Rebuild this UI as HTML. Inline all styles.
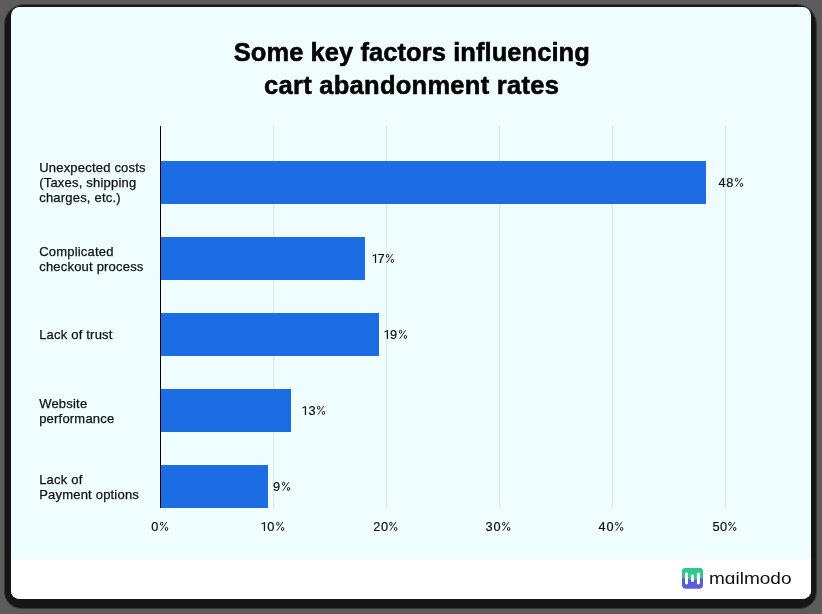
<!DOCTYPE html>
<html>
<head>
<meta charset="utf-8">
<title>Some key factors influencing cart abandonment rates</title>
<style>
html,body{margin:0;padding:0;width:822px;height:614px;overflow:hidden;background:#5c5c5c;}
svg{display:block;will-change:transform;}
text{font-family:"Liberation Sans",sans-serif;}
.cat{font-size:13px;fill:#111;letter-spacing:0.2px;stroke:#111;stroke-width:0.25px;}
.dg{font-size:12.8px;fill:#111;stroke:#111;stroke-width:0.2px;}
.one{fill:#111;}
.pct{fill:none;stroke:#111;stroke-width:0.95px;}
.sl{stroke-width:0.9px;}
.title{font-size:25.5px;font-weight:bold;fill:#000;text-anchor:middle;stroke:#000;stroke-width:0.55px;stroke-linejoin:round;}
</style>
</head>
<body>
<svg width="822" height="614" viewBox="0 0 822 614">
  <defs>
    <clipPath id="card"><rect x="11" y="7" width="800" height="592" rx="8.5" ry="8.5"/></clipPath>
    <clipPath id="logo"><rect x="682" y="568" width="21" height="20.8" rx="4" ry="4"/></clipPath>
  </defs>
  <!-- dark backing frame -->
  <path d="M24.0 4.5H797.0A19.5 19.5 0 0 1 816.5 24.0V592.0A16.5 16.5 0 0 1 800.0 608.5H21.0A16.5 16.5 0 0 1 4.5 592.0V24.0A19.5 19.5 0 0 1 24.0 4.5Z" fill="none" stroke="#383838" stroke-width="1"/>
  <path d="M24 5H797A19 19 0 0 1 816 24V592A16 16 0 0 1 800 608H21A16 16 0 0 1 5 592V24A19 19 0 0 1 24 5Z" fill="#161616"/>
  <!-- card -->
  <g clip-path="url(#card)">
    <rect x="10" y="6" width="802" height="594" fill="#effdfe"/>
    <rect x="10" y="559" width="802" height="41" fill="#ffffff"/>
  </g>

  <!-- title -->
  <text class="title" x="411.8" y="60.8" style="letter-spacing:0.07px">Some key factors influencing</text>
  <text class="title" x="411.6" y="94" style="letter-spacing:0.27px">cart abandonment rates</text>

  <!-- gridlines -->
  <g fill="#d8e5e7">
    <rect x="273" y="126" width="1" height="382"/>
    <rect x="386" y="126" width="1" height="382"/>
    <rect x="499" y="126" width="1" height="382"/>
    <rect x="612" y="126" width="1" height="382"/>
    <rect x="725" y="126" width="1" height="382"/>
  </g>

  <!-- bars -->
  <g fill="#1c6de4">
    <rect x="161" y="161" width="545" height="43"/>
    <rect x="161" y="237" width="204" height="43"/>
    <rect x="161" y="313" width="218" height="43"/>
    <rect x="161" y="389" width="130" height="43"/>
    <rect x="161" y="465" width="107" height="43"/>
  </g>
  <!-- y axis -->
  <rect x="160" y="126" width="1" height="382" fill="#000"/>

  <!-- value labels -->
  <text class="dg" x="718.41" y="187">4</text><text class="dg" x="726.34" y="187">8</text><g class="pct"><ellipse cx="736.65" cy="179.80" rx="1.25" ry="1.55"/><ellipse cx="741.50" cy="184.95" rx="1.25" ry="1.55"/><path class="sl" d="M735.85 186.70L741.75 178.10"/></g>
  <path class="one" d="M376.12 263.00V254.25H375.15L372.60 255.35V256.55L374.88 255.55V263.00Z"/><text class="dg" x="377.54" y="263">7</text><g class="pct"><ellipse cx="387.55" cy="255.80" rx="1.25" ry="1.55"/><ellipse cx="392.40" cy="260.95" rx="1.25" ry="1.55"/><path class="sl" d="M386.75 262.70L392.65 254.10"/></g>
  <path class="one" d="M388.07 339.00V330.25H387.10L384.55 331.35V332.55L386.83 331.55V339.00Z"/><text class="dg" x="390.10" y="339">9</text><g class="pct"><ellipse cx="400.55" cy="331.80" rx="1.25" ry="1.55"/><ellipse cx="405.40" cy="336.95" rx="1.25" ry="1.55"/><path class="sl" d="M399.75 338.70L405.65 330.10"/></g>
  <path class="one" d="M306.07 415.00V406.25H305.10L302.55 407.35V408.55L304.83 407.55V415.00Z"/><text class="dg" x="308.41" y="415">3</text><g class="pct"><ellipse cx="318.65" cy="407.80" rx="1.25" ry="1.55"/><ellipse cx="323.50" cy="412.95" rx="1.25" ry="1.55"/><path class="sl" d="M317.85 414.70L323.75 406.10"/></g>
  <text class="dg" x="273.10" y="491">9</text><g class="pct"><ellipse cx="283.65" cy="483.80" rx="1.25" ry="1.55"/><ellipse cx="288.50" cy="488.95" rx="1.25" ry="1.55"/><path class="sl" d="M282.85 490.70L288.75 482.10"/></g>

  <!-- category labels -->
  <text class="cat" x="39.2" y="171.5">Unexpected costs</text>
  <text class="cat" x="39.2" y="187">(Taxes, shipping</text>
  <text class="cat" x="39.2" y="202">charges, etc.)</text>
  <text class="cat" x="39.2" y="255.9">Complicated</text>
  <text class="cat" x="39.2" y="270.6">checkout process</text>
  <text class="cat" x="39.2" y="339">Lack of trust</text>
  <text class="cat" x="39.2" y="407.5">Website</text>
  <text class="cat" x="39.2" y="423">performance</text>
  <text class="cat" x="39.2" y="484">Lack of</text>
  <text class="cat" x="39.2" y="498.7">Payment options</text>

  <!-- x axis labels -->
  <text class="dg" x="151.30" y="531">0</text><g class="pct"><ellipse cx="161.65" cy="523.80" rx="1.25" ry="1.55"/><ellipse cx="166.50" cy="528.95" rx="1.25" ry="1.55"/><path class="sl" d="M160.85 530.70L166.75 522.10"/></g>
  <path class="one" d="M265.07 531.00V522.25H264.10L261.55 523.35V524.55L263.83 523.55V531.00Z"/><text class="dg" x="267.20" y="531">0</text><g class="pct"><ellipse cx="277.75" cy="523.80" rx="1.25" ry="1.55"/><ellipse cx="282.60" cy="528.95" rx="1.25" ry="1.55"/><path class="sl" d="M276.95 530.70L282.85 522.10"/></g>
  <text class="dg" x="373.26" y="531">2</text><text class="dg" x="380.90" y="531">0</text><g class="pct"><ellipse cx="390.85" cy="523.80" rx="1.25" ry="1.55"/><ellipse cx="395.70" cy="528.95" rx="1.25" ry="1.55"/><path class="sl" d="M390.05 530.70L395.95 522.10"/></g>
  <text class="dg" x="485.51" y="531">3</text><text class="dg" x="493.40" y="531">0</text><g class="pct"><ellipse cx="503.75" cy="523.80" rx="1.25" ry="1.55"/><ellipse cx="508.60" cy="528.95" rx="1.25" ry="1.55"/><path class="sl" d="M502.95 530.70L508.85 522.10"/></g>
  <text class="dg" x="598.51" y="531">4</text><text class="dg" x="606.50" y="531">0</text><g class="pct"><ellipse cx="616.75" cy="523.80" rx="1.25" ry="1.55"/><ellipse cx="621.60" cy="528.95" rx="1.25" ry="1.55"/><path class="sl" d="M615.95 530.70L621.85 522.10"/></g>
  <text class="dg" x="712.39" y="531">5</text><text class="dg" x="719.90" y="531">0</text><g class="pct"><ellipse cx="729.85" cy="523.80" rx="1.25" ry="1.55"/><ellipse cx="734.70" cy="528.95" rx="1.25" ry="1.55"/><path class="sl" d="M729.05 530.70L734.95 522.10"/></g>

  <!-- logo -->
  <g clip-path="url(#logo)">
    <rect x="682" y="568" width="21" height="21" fill="#5b5bdc"/>
    <path d="M682 568 H703 V578.3 C699 578.3 698 578.2 696 579.6 C694 580.5 692 580.5 690 579.6 C688 578.4 686 578.3 682 578.3 Z" fill="#2ec98f"/>
    <path d="M685 573.3L686.5 572.1L688 573.3V583.6L686.5 584.8L685 583.6Z" fill="#fff"/>
    <path d="M691 575.3L692.45 574.1L693.9 575.3V581.8H691Z" fill="#fff"/>
    <path d="M696.9 573.4L698.4 572.2L699.9 573.4V583.6L698.4 584.8L696.9 583.6Z" fill="#fff"/>
  </g>
  <text x="709" y="583.8" textLength="82.5" lengthAdjust="spacingAndGlyphs" style="font-size:16.8px;fill:#111">m&#x251;ilmodo</text>
</svg>
</body>
</html>
